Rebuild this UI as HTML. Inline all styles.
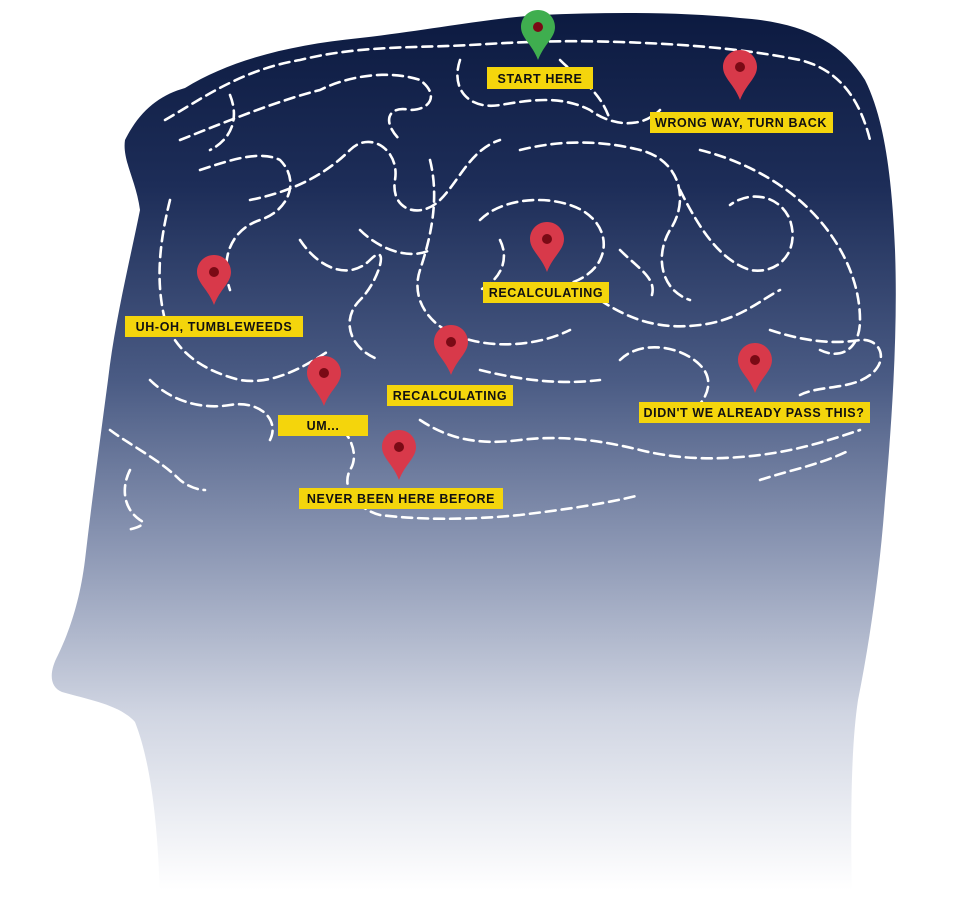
<!DOCTYPE html>
<html><head><meta charset="utf-8"><style>
html,body{margin:0;padding:0;background:#fff;width:960px;height:900px;overflow:hidden}
svg{display:block}
text{font-family:"Liberation Sans",sans-serif;font-weight:bold;font-size:12.5px;letter-spacing:0.6px;fill:#111}
</style></head><body>
<svg width="960" height="900" viewBox="0 0 960 900" xmlns="http://www.w3.org/2000/svg">
<defs>
<linearGradient id="hg" gradientUnits="userSpaceOnUse" x1="0" y1="10" x2="0" y2="890">
<stop offset="0" stop-color="#0c1a40"/>
<stop offset="0.2" stop-color="#1d2d58"/>
<stop offset="0.42" stop-color="#4a5b84"/>
<stop offset="0.62" stop-color="#8f9ab6"/>
<stop offset="0.8" stop-color="#d0d5e2"/>
<stop offset="1" stop-color="#ffffff"/>
</linearGradient>
<g id="pin">
<path d="M0,0 C-10,0 -17,8 -17,17 C-17,28 -6,34 0,50 C6,34 17,28 17,17 C17,8 10,0 0,0Z"/>
<circle cx="0" cy="17" r="5" fill="#7a0a15"/>
</g>
</defs>
<path fill="url(#hg)" d="M125,140 C140,110 160,95 185,88 C230,60 290,45 360,38 C430,30 490,18 540,15 C610,12 680,12 740,18 C800,22 840,40 865,80 C885,120 892,180 895,250 C898,330 892,420 885,500 C880,570 870,640 858,700 C852,740 850,800 852,900 L160,900 C158,820 150,760 135,722 C120,705 90,700 62,692 C48,686 50,670 58,655 C70,630 80,600 85,560 C92,500 100,440 108,380 C115,320 130,260 140,210 C136,180 122,160 125,140Z"/>
<g fill="none" stroke="#fff" stroke-width="2.6" stroke-dasharray="10 6" stroke-linecap="round">
<path d="M165,120 C200,100 240,70 300,60 C360,45 420,48 470,45 C520,42 560,40 620,42 C680,44 740,48 800,60 C840,70 860,100 870,140"/>
<path d="M180,140 C230,120 280,100 320,90 C350,75 390,70 420,80 C440,95 430,110 410,110 C390,105 380,120 400,140"/>
<path d="M460,60 C450,90 470,110 500,105 C530,100 560,95 590,110 C610,125 640,130 660,110"/>
<path d="M200,170 C230,160 260,150 280,160 C300,180 290,210 260,220 C230,230 220,260 230,290"/>
<path d="M250,200 C300,190 330,170 350,150 C370,130 400,150 395,180 C390,210 420,220 440,200 C460,180 470,150 500,140"/>
<path d="M170,200 C160,240 155,280 165,320 C175,350 200,370 240,380 C270,385 300,370 330,350"/>
<path d="M300,240 C320,270 350,280 370,260 C390,240 380,280 360,300 C340,320 350,350 380,360"/>
<path d="M430,160 C440,200 430,240 420,270 C410,300 430,330 470,340 C500,348 540,345 570,330"/>
<path d="M480,220 C500,200 540,195 570,205 C600,215 610,240 600,260 C590,280 560,290 540,285"/>
<path d="M520,150 C560,140 600,140 640,150 C680,160 690,200 670,230 C655,255 660,290 690,300"/>
<path d="M700,150 C740,160 780,180 810,210 C840,240 860,280 860,320 C860,350 840,360 820,350"/>
<path d="M680,190 C700,230 720,260 750,270 C780,275 800,250 790,220 C780,195 750,190 730,205"/>
<path d="M600,300 C630,320 660,330 700,325 C740,320 760,300 780,290"/>
<path d="M620,360 C640,340 680,345 700,365 C720,385 700,410 680,420"/>
<path d="M770,330 C800,340 830,345 860,340 C880,338 890,360 870,375 C850,390 820,385 800,395"/>
<path d="M150,380 C170,400 200,410 230,405 C260,400 280,420 270,440"/>
<path d="M330,420 C350,430 360,455 350,470 C340,490 360,510 380,515 C420,520 470,520 520,515 C560,510 600,505 640,495"/>
<path d="M420,420 C450,440 480,445 520,440 C560,435 600,440 640,450 C680,460 720,460 760,455 C800,450 830,440 860,430"/>
<path d="M480,370 C520,380 560,385 600,380"/>
<path d="M760,480 C790,470 820,465 850,450"/>
<path d="M110,430 C130,445 160,460 180,480 C190,488 200,490 205,490"/>
<path d="M130,470 C120,490 125,510 140,520 C150,525 130,530 125,530"/>
<path d="M560,60 C580,80 600,90 610,120"/>
<path d="M230,95 C240,120 230,140 210,150"/>
<path d="M360,230 C380,250 410,260 430,250"/>
<path d="M500,240 C510,260 500,280 480,290"/>
<path d="M620,250 C640,270 660,280 650,300"/>
</g>
<use href="#pin" x="538" y="10" fill="#3fae4f"/>
<use href="#pin" x="740" y="50" fill="#d8394a"/>
<use href="#pin" x="547" y="222" fill="#d8394a"/>
<use href="#pin" x="214" y="255" fill="#d8394a"/>
<use href="#pin" x="451" y="325" fill="#d8394a"/>
<use href="#pin" x="324" y="356" fill="#d8394a"/>
<use href="#pin" x="755" y="343" fill="#d8394a"/>
<use href="#pin" x="399" y="430" fill="#d8394a"/>
<g fill="#f4d50c">
<rect x="487" y="67" width="106" height="22"/>
<rect x="650" y="112" width="183" height="21"/>
<rect x="483" y="282" width="126" height="21"/>
<rect x="125" y="316" width="178" height="21"/>
<rect x="387" y="385" width="126" height="21"/>
<rect x="278" y="415" width="90" height="21"/>
<rect x="639" y="402" width="231" height="21"/>
<rect x="299" y="488" width="204" height="21"/>
</g>
<text x="540" y="83" text-anchor="middle">START HERE</text>
<text x="741" y="127" text-anchor="middle">WRONG WAY, TURN BACK</text>
<text x="546" y="297" text-anchor="middle">RECALCULATING</text>
<text x="214" y="331" text-anchor="middle">UH-OH, TUMBLEWEEDS</text>
<text x="450" y="400" text-anchor="middle">RECALCULATING</text>
<text x="323" y="430" text-anchor="middle">UM...</text>
<text x="754" y="417" text-anchor="middle">DIDN'T WE ALREADY PASS THIS?</text>
<text x="401" y="503" text-anchor="middle">NEVER BEEN HERE BEFORE</text>
</svg>
</body></html>
